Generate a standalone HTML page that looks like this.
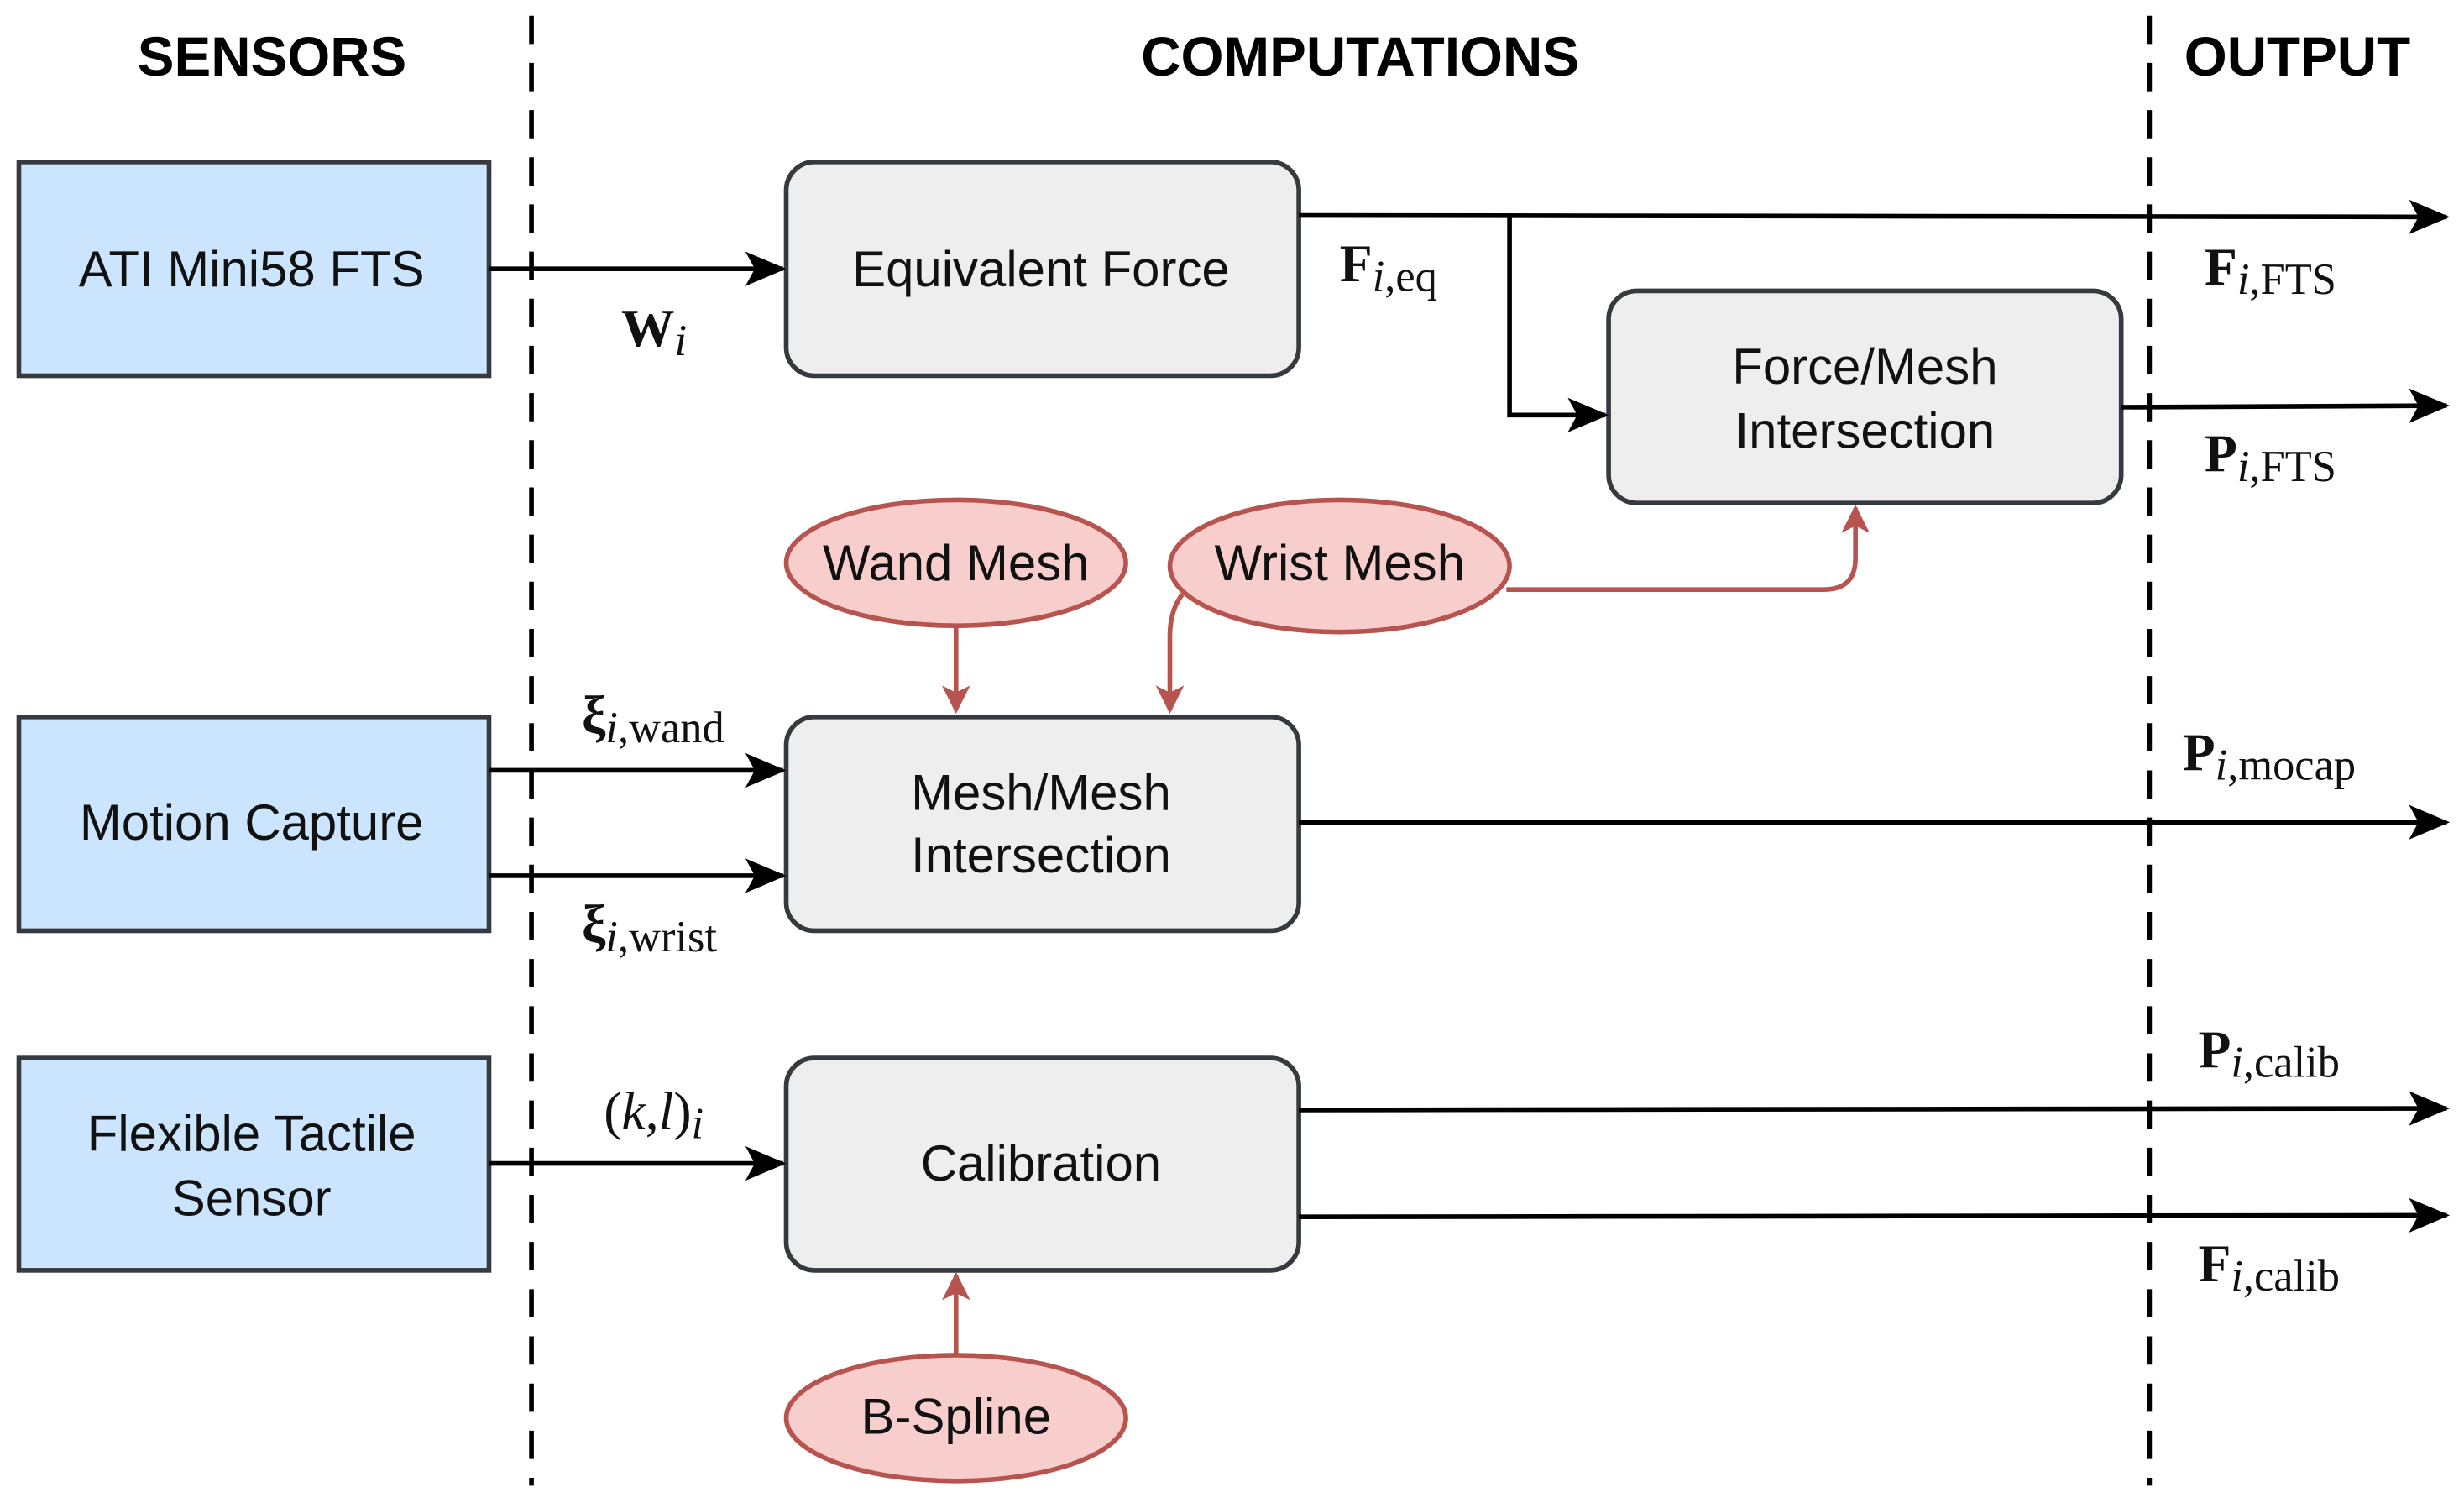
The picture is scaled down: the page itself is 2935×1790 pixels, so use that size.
<!DOCTYPE html>
<html><head><meta charset="utf-8"><style>
html,body{margin:0;padding:0;background:#fff;}
svg{display:block;}
.h{font-family:"Liberation Sans",sans-serif;font-weight:bold;font-size:35px;text-anchor:middle;}
.t{font-family:"Liberation Sans",sans-serif;font-size:32px;text-anchor:middle;fill:#111;}
.m{font-family:"Liberation Serif",serif;font-size:34px;fill:#111;}
.b{font-weight:bold;}
.s{font-size:28px;}
.i{font-style:italic;}
</style></head><body>
<svg width="2935" height="1790" viewBox="0 0 1567 956" preserveAspectRatio="none" xmlns="http://www.w3.org/2000/svg">
<defs>
<marker id="akL" markerWidth="26" markerHeight="22" refX="24" refY="11" orient="auto" markerUnits="userSpaceOnUse" viewBox="0 0 26 22"><path d="M0,0 L26,11 L0,22 L6,11 z" fill="#000"/></marker>
<marker id="arL" markerWidth="18" markerHeight="18" refX="16" refY="9" orient="auto" markerUnits="userSpaceOnUse" viewBox="0 0 18 18"><path d="M0,0 L18,9 L0,18 L4.5,9 z" fill="#b85450"/></marker>
</defs>
<text class="h" x="173" y="48">SENSORS</text>
<text class="h" x="865" y="48">COMPUTATIONS</text>
<text class="h" x="1461" y="48">OUTPUT</text>
<line x1="338" y1="10" x2="338" y2="945" stroke="#000" stroke-width="3" stroke-dasharray="18,12"/>
<line x1="1367" y1="10" x2="1367" y2="945" stroke="#000" stroke-width="3" stroke-dasharray="18,12"/>

<g fill="#cce5ff" stroke="#36393d" stroke-width="3">
<rect x="12" y="103" width="299" height="136"/>
<rect x="12" y="456" width="299" height="136"/>
<rect x="12" y="673" width="299" height="135"/>
</g>
<g fill="#eeeeee" stroke="#36393d" stroke-width="3">
<rect x="500" y="103" width="326" height="136" rx="18"/>
<rect x="1023" y="185" width="326" height="135" rx="18"/>
<rect x="500" y="456" width="326" height="136" rx="18"/>
<rect x="500" y="673" width="326" height="135" rx="18"/>
</g>
<g fill="#f8cecc" stroke="#b85450" stroke-width="3">
<ellipse cx="608" cy="358" rx="108" ry="40"/>
<ellipse cx="852" cy="360" rx="108" ry="42"/>
<ellipse cx="608" cy="902" rx="108" ry="40"/>
</g>

<text class="t" x="160" y="182">ATI Mini58 FTS</text>
<text class="t" x="160" y="534">Motion Capture</text>
<text class="t" x="160" y="732">Flexible Tactile</text>
<text class="t" x="160" y="773">Sensor</text>
<text class="t" x="662" y="182">Equivalent Force</text>
<text class="t" x="1186" y="244">Force/Mesh</text>
<text class="t" x="1186" y="285">Intersection</text>
<text class="t" x="662" y="515">Mesh/Mesh</text>
<text class="t" x="662" y="555">Intersection</text>
<text class="t" x="662" y="751">Calibration</text>
<text class="t" x="608" y="369">Wand Mesh</text>
<text class="t" x="852" y="369">Wrist Mesh</text>
<text class="t" x="608" y="912">B-Spline</text>

<g stroke="#000" stroke-width="3" fill="none">
<line x1="311" y1="171" x2="498" y2="171" marker-end="url(#akL)"/>
<line x1="826" y1="137" x2="1556" y2="138" marker-end="url(#akL)"/>
<polyline points="960,137 960,264 1021,264" marker-end="url(#akL)"/>
<line x1="1349" y1="259" x2="1556" y2="258" marker-end="url(#akL)"/>
<line x1="311" y1="490" x2="498" y2="490" marker-end="url(#akL)"/>
<line x1="311" y1="557" x2="498" y2="557" marker-end="url(#akL)"/>
<line x1="826" y1="523" x2="1556" y2="523" marker-end="url(#akL)"/>
<line x1="311" y1="740" x2="498" y2="740" marker-end="url(#akL)"/>
<line x1="826" y1="706" x2="1556" y2="705" marker-end="url(#akL)"/>
<line x1="826" y1="774" x2="1556" y2="773" marker-end="url(#akL)"/>
</g>
<g stroke="#b85450" stroke-width="3" fill="none">
<line x1="608" y1="398" x2="608" y2="452" marker-end="url(#arL)"/>
<path d="M752,378 Q744,388 744,405 L744,452" marker-end="url(#arL)"/>
<path d="M958,375 L1160,375 Q1180,375 1180,355 L1180,323" marker-end="url(#arL)"/>
<line x1="608" y1="862" x2="608" y2="811" marker-end="url(#arL)"/>
</g>

<text class="m" x="395" y="220"><tspan class="b">W</tspan><tspan class="i s" dy="6">i</tspan></text>
<text class="m" x="852" y="179"><tspan class="b">F</tspan><tspan class="s" dy="6"><tspan class="i">i</tspan>,eq</tspan></text>
<text class="m" x="1402" y="181"><tspan class="b">F</tspan><tspan class="s" dy="6"><tspan class="i">i</tspan>,FTS</tspan></text>
<text class="m" x="1402" y="300"><tspan class="b">P</tspan><tspan class="s" dy="6"><tspan class="i">i</tspan>,FTS</tspan></text>
<text class="m" x="370" y="466"><tspan class="b">ξ</tspan><tspan class="s" dy="6"><tspan class="i">i</tspan>,wand</tspan></text>
<text class="m" x="370" y="599"><tspan class="b">ξ</tspan><tspan class="s" dy="6"><tspan class="i">i</tspan>,wrist</tspan></text>
<text class="m" x="1388" y="490"><tspan class="b">P</tspan><tspan class="s" dy="6"><tspan class="i">i</tspan>,mocap</tspan></text>
<text class="m" x="384" y="718">(<tspan class="i">k</tspan>,<tspan class="i">l</tspan>)<tspan class="i s" dy="6">i</tspan></text>
<text class="m" x="1398" y="679"><tspan class="b">P</tspan><tspan class="s" dy="6"><tspan class="i">i</tspan>,calib</tspan></text>
<text class="m" x="1398" y="815"><tspan class="b">F</tspan><tspan class="s" dy="6"><tspan class="i">i</tspan>,calib</tspan></text>
</svg>
</body></html>
